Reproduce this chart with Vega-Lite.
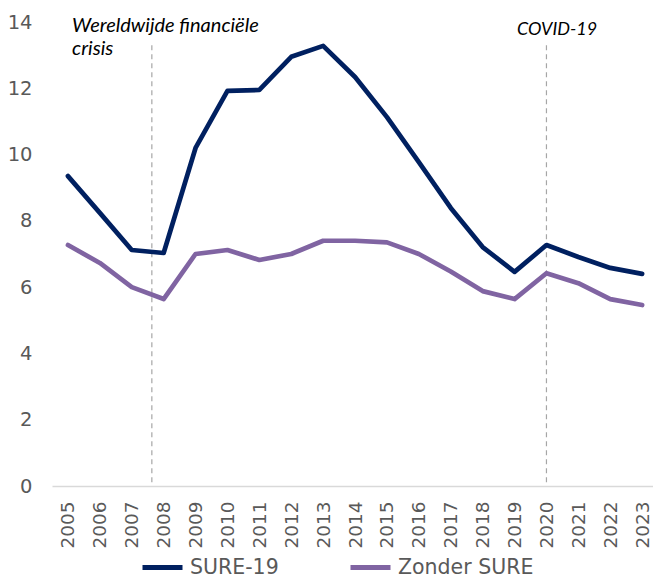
{
  "$schema": "https://vega.github.io/schema/vega-lite/v6.json",
  "width": 601,
  "height": 464,
  "autosize": "none",
  "padding": {"left": 52, "top": 22, "right": 0, "bottom": 91},
  "config": {"view": {"stroke": null}, "font": "DejaVu Sans"},
  "datasets": {
    "series": [
      {"year": 2005, "series": "SURE-19", "value": 9.35},
      {"year": 2006, "series": "SURE-19", "value": 8.24},
      {"year": 2007, "series": "SURE-19", "value": 7.12},
      {"year": 2008, "series": "SURE-19", "value": 7.03},
      {"year": 2009, "series": "SURE-19", "value": 10.2},
      {"year": 2010, "series": "SURE-19", "value": 11.92},
      {"year": 2011, "series": "SURE-19", "value": 11.95},
      {"year": 2012, "series": "SURE-19", "value": 12.95},
      {"year": 2013, "series": "SURE-19", "value": 13.28},
      {"year": 2014, "series": "SURE-19", "value": 12.34},
      {"year": 2015, "series": "SURE-19", "value": 11.13},
      {"year": 2016, "series": "SURE-19", "value": 9.77},
      {"year": 2017, "series": "SURE-19", "value": 8.39},
      {"year": 2018, "series": "SURE-19", "value": 7.21},
      {"year": 2019, "series": "SURE-19", "value": 6.46},
      {"year": 2020, "series": "SURE-19", "value": 7.27},
      {"year": 2021, "series": "SURE-19", "value": 6.91},
      {"year": 2022, "series": "SURE-19", "value": 6.58},
      {"year": 2023, "series": "SURE-19", "value": 6.4},
      {"year": 2005, "series": "Zonder SURE", "value": 7.27},
      {"year": 2006, "series": "Zonder SURE", "value": 6.73},
      {"year": 2007, "series": "Zonder SURE", "value": 6.0},
      {"year": 2008, "series": "Zonder SURE", "value": 5.64},
      {"year": 2009, "series": "Zonder SURE", "value": 7.0},
      {"year": 2010, "series": "Zonder SURE", "value": 7.12},
      {"year": 2011, "series": "Zonder SURE", "value": 6.82},
      {"year": 2012, "series": "Zonder SURE", "value": 7.0},
      {"year": 2013, "series": "Zonder SURE", "value": 7.4},
      {"year": 2014, "series": "Zonder SURE", "value": 7.4},
      {"year": 2015, "series": "Zonder SURE", "value": 7.35},
      {"year": 2016, "series": "Zonder SURE", "value": 7.0},
      {"year": 2017, "series": "Zonder SURE", "value": 6.47},
      {"year": 2018, "series": "Zonder SURE", "value": 5.88},
      {"year": 2019, "series": "Zonder SURE", "value": 5.64},
      {"year": 2020, "series": "Zonder SURE", "value": 6.42},
      {"year": 2021, "series": "Zonder SURE", "value": 6.12},
      {"year": 2022, "series": "Zonder SURE", "value": 5.64},
      {"year": 2023, "series": "Zonder SURE", "value": 5.46}
    ],
    "events": [
      {"year": 2007.63, "value": 13.3, "bottom": 0},
      {"year": 2020, "value": 13.3, "bottom": 0}
    ],
    "crisisLabels": [
      {"year": 2005.13, "value": 13.7, "label": "Wereldwijde financiële"},
      {"year": 2005.13, "value": 13.0, "label": "crisis"}
    ],
    "covidLabels": [
      {"year": 2019.08, "value": 13.61, "label": "COVID-19"}
    ]
  },
  "encoding": {
    "x": {
      "field": "year",
      "type": "quantitative",
      "scale": {"domain": [2004.5, 2023.34], "nice": false, "zero": false},
      "axis": {
        "title": null,
        "values": [2005, 2006, 2007, 2008, 2009, 2010, 2011, 2012, 2013, 2014, 2015, 2016, 2017, 2018, 2019, 2020, 2021, 2022, 2023],
        "format": "d",
        "labelAngle": -90,
        "labelAlign": "right",
        "labelBaseline": "middle",
        "labelFontSize": 18.5,
        "labelColor": "#595959",
        "labelPadding": 15,
        "labelOverlap": false,
        "labelFlush": false,
        "labelSeparation": 0,
        "ticks": false,
        "grid": false,
        "domainColor": "#d9d9d9",
        "domainWidth": 1.5
      }
    },
    "y": {
      "field": "value",
      "type": "quantitative",
      "scale": {"domain": [0, 14], "nice": false},
      "axis": {
        "title": null,
        "values": [0, 2, 4, 6, 8, 10, 12, 14],
        "labelFontSize": 19.5,
        "labelColor": "#595959",
        "labelPadding": 20,
        "labelOverlap": false,
        "ticks": false,
        "grid": false,
        "domain": false
      }
    }
  },
  "layer": [
    {
      "data": {"name": "events"},
      "mark": {"type": "rule", "color": "#a6a6a6", "strokeWidth": 1.2, "strokeDash": [5, 4]},
      "encoding": {
        "y2": {"field": "bottom"}
      }
    },
    {
      "data": {"name": "series"},
      "mark": {"type": "line", "strokeWidth": 4.7, "strokeJoin": "round", "strokeCap": "round"},
      "encoding": {
        "color": {
          "field": "series",
          "type": "nominal",
          "scale": {"domain": ["SURE-19", "Zonder SURE"], "range": ["#002060", "#8064A2"]},
          "legend": {
            "title": null,
            "orient": "none",
            "direction": "horizontal",
            "legendX": 88,
            "legendY": 523,
            "symbolType": "stroke",
            "symbolSize": 1600,
            "symbolStrokeWidth": 5,
            "labelFontSize": 20.5,
            "labelColor": "#595959",
            "labelOffset": 5,
            "columnPadding": 61
          }
        }
      }
    },
    {
      "data": {"name": "crisisLabels"},
      "mark": {"type": "text", "align": "left", "baseline": "alphabetic", "font": "Lato", "fontStyle": "italic", "fontSize": 20, "color": "#000000"},
      "encoding": {
        "text": {"field": "label"}
      }
    },
    {
      "data": {"name": "covidLabels"},
      "mark": {"type": "text", "align": "left", "baseline": "alphabetic", "font": "Lato", "fontStyle": "italic", "fontSize": 18, "color": "#000000"},
      "encoding": {
        "text": {"field": "label"}
      }
    }
  ]
}
